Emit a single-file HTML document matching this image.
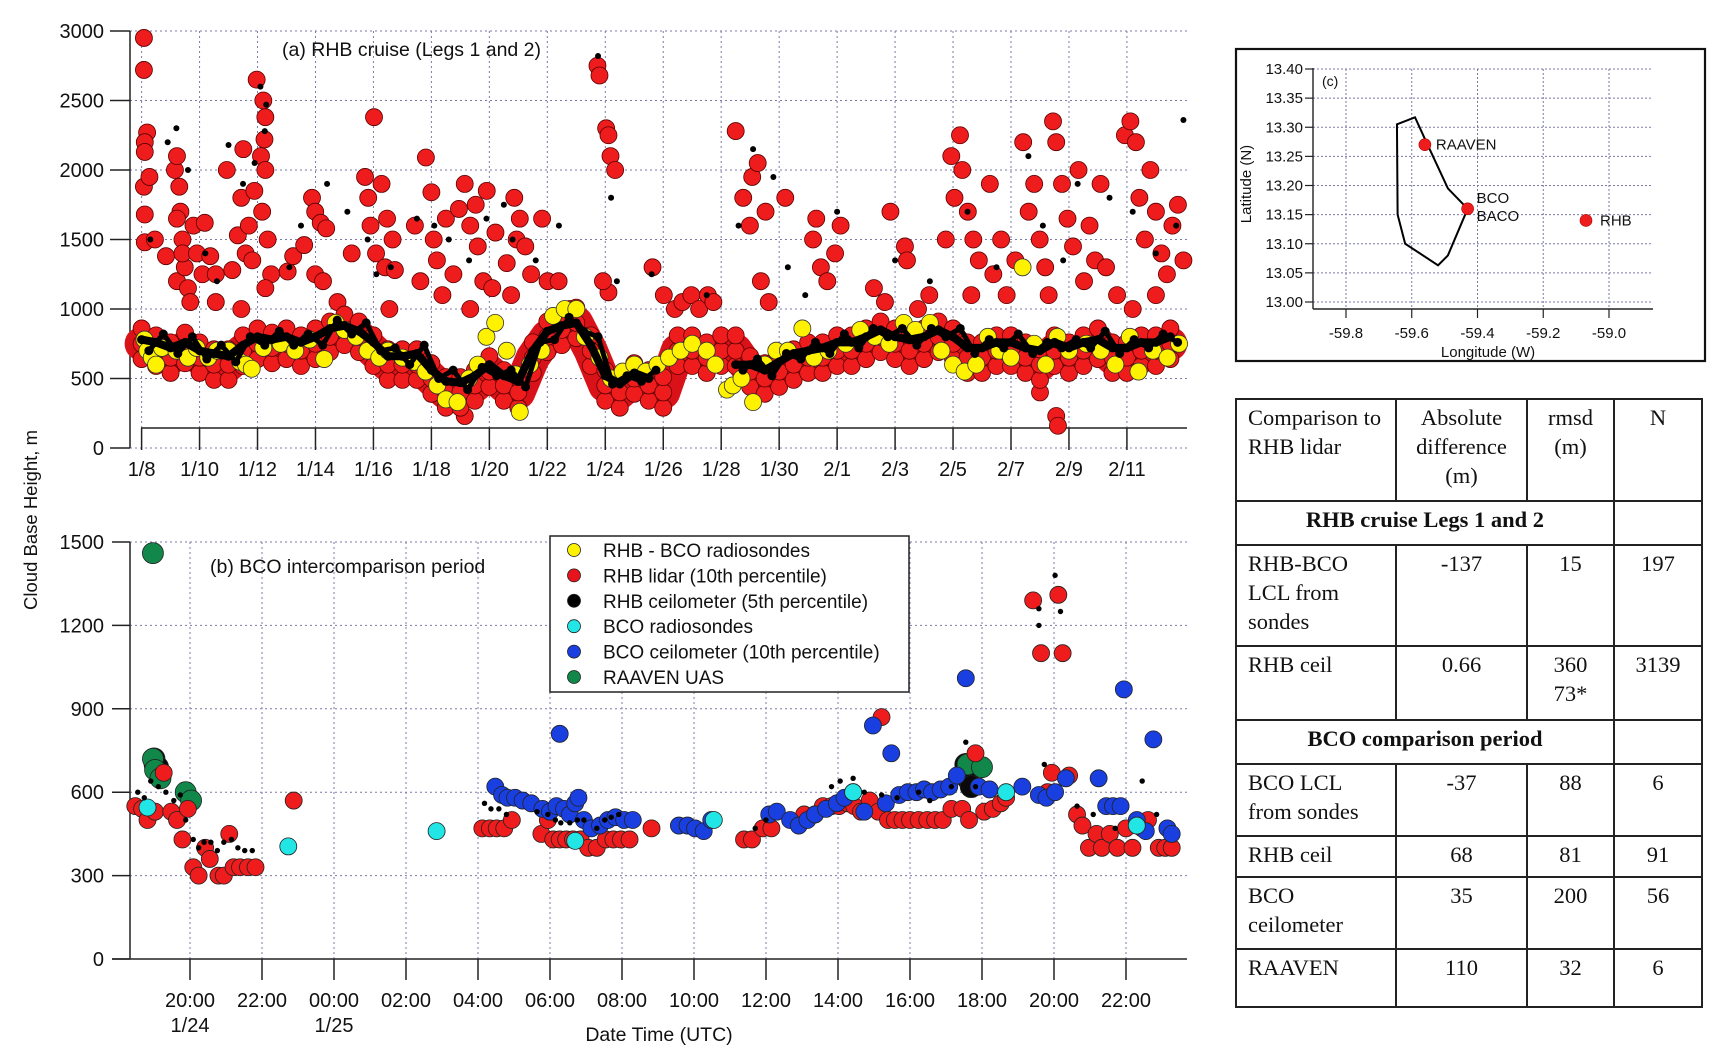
<!DOCTYPE html>
<html><head><meta charset="utf-8">
<style>
body{margin:0;background:#fff;width:1725px;height:1061px;overflow:hidden;position:relative;font-family:"Liberation Sans",sans-serif}
svg{position:absolute;left:0;top:0}
#tbl{position:absolute;left:1235px;top:398px;border-collapse:collapse;font-family:"Liberation Serif",serif;font-size:22.5px;line-height:29px;color:#111}
#tbl td{border:2px solid #222;vertical-align:top;padding:3px 8px 0 11px}
#tbl td.c{text-align:center;padding-left:4px;padding-right:4px}
</style></head><body>
<svg id="svg" width="1725" height="1061"></svg>
<table id="tbl">
<colgroup><col style="width:160px"><col style="width:131px"><col style="width:87px"><col style="width:88px"></colgroup>
<tr style="height:102px"><td>Comparison to RHB lidar</td><td class="c">Absolute difference (m)</td><td class="c">rmsd (m)</td><td class="c">N</td></tr>
<tr style="height:44px"><td colspan="3" class="c"><b>RHB cruise Legs 1 and 2</b></td><td></td></tr>
<tr style="height:101px"><td>RHB-BCO LCL from sondes</td><td class="c">-137</td><td class="c">15</td><td class="c">197</td></tr>
<tr style="height:74px"><td>RHB ceil</td><td class="c">0.66</td><td class="c">360<br>73*</td><td class="c">3139</td></tr>
<tr style="height:44px"><td colspan="3" class="c"><b>BCO comparison period</b></td><td></td></tr>
<tr style="height:72px"><td>BCO LCL from sondes</td><td class="c">-37</td><td class="c">88</td><td class="c">6</td></tr>
<tr style="height:41px"><td>RHB ceil</td><td class="c">68</td><td class="c">81</td><td class="c">91</td></tr>
<tr style="height:72px"><td>BCO ceilometer</td><td class="c">35</td><td class="c">200</td><td class="c">56</td></tr>
<tr style="height:58px"><td>RAAVEN</td><td class="c">110</td><td class="c">32</td><td class="c">6</td></tr>
</table>
<script>
// ---------- Panel (a) data: day offset from 1/8 ----------
const dayTicks=["1/8","1/10","1/12","1/14","1/16","1/18","1/20","1/22","1/24","1/26","1/28","1/30","2/1","2/3","2/5","2/7","2/9","2/11"];
const aYTicks=[0,500,1000,1500,2000,2500,3000];
const redBand=[750,700,650,720,650,600,600,700,750,720,750,700,750,800,850,800,700,600,600,600,500,400,400,450,550,450,400,650,800,850,900,700,450,400,500,450,400,700,700,650,700,700,550,500,550,600,650,650,700,700,750,800,750,700,750,800,750,650,650,700,700,650,600,700,650,700,750,650,650,700,700,750];
const blackBand=[780,760,720,760,700,680,660,740,800,780,800,760,800,860,880,840,760,660,660,680,560,480,470,520,600,520,480,700,840,880,900,740,520,460,540,500,null,null,null,null,null,600,600,560,620,680,700,720,760,760,800,850,800,780,800,850,800,720,720,760,760,720,700,760,720,760,780,720,720,760,760,800];
const blackBand2=[700,820,680,800,640,740,620,800,740,840,740,820,740,920,820,900,700,720,600,740,500,560,420,580,520,560,440,760,780,940,840,800,460,520,480,560,null,null,null,null,null,560,640,520,680,640,760,680,820,720,860,800,860,740,860,800,860,680,780,720,820,680,760,720,780,720,840,680,780,720,820,760];
const redHiDay=[0.08,0.08,0.19,0.11,0.11,0.08,0.11,0.11,0.27,0.46,0.84,1.15,1.22,1.30,1.34,1.41,1.22,1.49,1.60,1.68,1.41,1.79,1.22,1.91,2.10,2.18,2.37,2.56,2.56,2.94,3.13,3.32,3.44,3.51,3.70,3.59,3.82,3.89,3.97,4.12,4.20,4.27,4.24,4.27,4.16,4.35,4.47,4.27,3.44,5.04,5.23,5.61,5.88,5.99,6.18,6.37,5.99,6.26,6.76,7.25,7.71,7.82,7.90,8.02,8.09,8.28,8.47,8.40,8.66,8.74,8.55,9.43,9.62,9.81,10.0,10.08,10.19,10.38,10.50,10.76,10.95,11.15,11.34,11.53,11.60,11.79,11.91,12.10,12.21,11.34,12.60,12.75,12.86,12.94,13.05,13.24,13.44,13.82,14.01,14.39,14.77,15.73,15.80,16.03,16.11,16.18,16.34,16.11,15.92,17.63,18.02,18.40,18.66,18.97,19.24,19.54,19.73,20.50,20.76,20.99,21.07,21.26,21.37,21.53,21.64,22.21,23.17,23.28,23.44,23.66,23.93,24.12,25.27,25.65,25.84,26.34,26.41,26.79,27.18,27.75,27.94,28.05,28.24,28.32,28.51,28.70,28.89,28.63,29.27,29.39,29.66,29.85,30.15,30.42,30.61,30.80,30.99,31.18,31.30,31.45,31.56,31.76,31.95,32.14,32.33,32.52,32.71,32.90,33.09,33.28,33.66,33.93,34.12,34.31,34.43,34.62,34.81,35.0,35.19,35.38,35.57,35.76,35.95,34.20,35.0,31.0,31.56,31.62,11.15];
const redHiVal=[2950,2720,2270,2200,2130,1880,1680,1480,1950,1500,1380,2000,2100,1880,1700,1500,1200,1300,1150,1050,1400,1600,1650,1400,1250,1620,1380,1050,1250,2000,1280,1530,1800,2150,1600,1400,1350,1850,2650,2100,2500,2380,2220,2000,1700,1500,1250,1150,1000,1270,1380,1460,1800,1700,1620,1580,1250,1200,1050,1400,1950,1800,1600,2380,1400,1900,1650,1300,1500,1280,1000,1600,1200,2090,1840,1500,1350,1100,1650,1250,1720,1900,1600,1750,1450,1200,1850,1150,1550,1000,1330,1100,1800,1500,1650,1450,1250,1650,1200,1200,1000,2750,2680,2300,2250,2100,2000,1120,1200,1300,1100,1000,1050,1100,1000,1100,1050,2280,1800,1600,1950,2050,1200,1700,1050,1800,1500,1650,1300,1200,1400,1600,1150,1050,1700,1450,1350,1000,1100,1500,2100,1800,2250,2000,1700,1500,1350,1100,1900,1250,1500,1100,1350,2200,1700,1900,1500,1300,1100,2350,2200,1900,1650,1450,2000,1200,1600,1350,1900,1300,1100,2250,2350,2200,1800,1500,2000,1700,1400,1250,1600,1750,1350,1000,1100,400,230,160,230];
const blackHiDay=[0.3,0.9,1.2,1.6,2.2,2.6,3.0,3.5,3.9,4.1,4.3,4.25,5.1,5.5,6.4,7.1,7.8,8.1,8.6,9.5,10.1,10.6,11.3,11.9,12.5,12.8,13.6,14.4,15.75,16.2,16.4,17.6,19.5,20.6,21.1,21.8,22.3,22.9,24.0,26.0,27.2,28.5,29.5,30.6,31.1,31.8,32.3,33.4,34.2,35.0,35.7,35.95];
const blackHiVal=[1500,2200,2300,2000,1400,1200,2180,1900,2050,2600,2470,2280,1300,1600,1900,1700,1500,1250,1300,1650,1600,1500,1350,1650,1750,1500,1350,1600,2820,1800,1200,1250,1100,1600,2150,1950,1300,1100,1700,1350,1200,1700,1300,2100,1600,1350,1900,1800,1700,1400,1600,2360];
const yelDay=[0.1,0.2,0.35,0.5,0.7,1.2,1.6,1.9,2.3,2.6,3.0,3.4,3.6,3.8,4.2,4.8,5.3,5.8,6.3,6.7,7.0,7.4,7.8,8.2,8.5,9.0,9.4,9.8,10.2,10.5,10.9,11.3,11.6,11.9,12.2,12.6,12.9,13.05,13.4,13.8,14.2,14.6,15.0,15.3,15.8,16.2,16.6,17.0,17.4,17.8,18.2,18.6,19.0,19.5,19.8,20.2,20.4,20.7,21.1,21.5,21.9,22.3,22.8,23.2,23.7,24.3,24.8,25.3,25.8,26.3,26.7,27.2,27.6,28.0,28.4,28.8,29.2,29.6,30.0,30.4,30.8,31.2,31.6,32.0,32.6,33.1,33.6,34.1,34.4,34.9,35.4,35.8];
const yelVal=[780,700,650,600,720,700,650,720,650,700,700,620,600,570,720,750,700,780,640,900,850,800,700,650,700,650,620,550,450,350,330,500,600,800,900,700,530,260,600,700,950,1000,1000,800,650,500,550,600,550,600,650,700,750,700,600,420,450,500,330,600,700,700,860,650,700,750,850,800,750,900,850,900,700,600,550,600,800,700,650,1300,750,600,800,700,750,700,600,800,550,700,650,750];

// ---------- Panel (b) data: hours after 1/24 20:00 ----------
const timeTicks=["20:00","22:00","00:00","02:00","04:00","06:00","08:00","10:00","12:00","14:00","16:00","18:00","20:00","22:00"];
const bYTicks=[0,300,600,900,1200,1500];
const lidarH=[-1.52,-1.33,-1.18,-0.97,-0.73,-0.52,-0.36,-0.21,-0.06,0.09,0.24,0.42,0.55,0.79,0.94,1.09,1.21,1.39,1.61,1.82,2.88,8.12,8.33,8.52,8.73,8.94,9.76,9.94,10.09,10.27,10.45,10.64,10.85,11.06,11.3,11.55,11.76,11.97,12.21,12.82,15.39,15.61,15.91,16.15,17.06,17.36,17.58,17.82,18.03,18.27,18.45,18.64,18.88,19.12,19.21,19.39,19.58,19.79,20.0,20.24,20.48,20.7,20.91,21.15,21.45,21.64,21.82,22.06,22.3,22.52,22.67,23.42,23.64,23.82,23.94,24.12,24.24,24.42,24.64,24.79,24.97,25.18,25.33,25.55,25.76,26.0,26.18,26.45,26.61,26.91,27.09,27.27];
const lidarV=[550,540,500,530,670,530,500,430,540,330,300,400,360,300,300,450,330,330,330,330,570,470,470,470,470,500,450,500,430,430,430,430,430,400,400,430,430,430,430,470,430,430,470,470,520,520,550,550,550,560,550,530,570,530,870,500,500,500,500,500,500,500,500,540,540,500,740,530,540,560,580,1290,1100,600,670,1310,1100,660,520,480,400,450,400,450,400,470,400,470,500,400,400,400];
const bcoH=[8.48,8.67,8.82,9.03,9.24,9.48,9.79,10.0,10.18,10.27,10.39,10.55,10.7,10.79,10.94,11.15,11.39,11.61,11.82,12.06,12.3,13.58,13.82,14.03,14.27,14.48,16.09,16.3,16.67,16.91,17.15,17.36,17.67,17.97,18.18,18.42,18.73,18.97,19.33,19.48,19.7,19.94,20.18,20.39,20.61,20.85,21.09,21.3,21.55,21.91,22.21,23.12,23.58,23.79,24.03,24.33,25.24,25.45,25.64,25.85,25.94,26.3,26.55,26.76,27.15,27.27];
const bcoV=[620,590,580,580,570,560,540,530,550,810,540,520,560,580,500,470,480,500,510,500,500,480,480,470,460,500,520,530,500,480,500,520,540,560,580,600,530,840,560,740,590,600,600,610,600,610,620,660,1010,620,610,620,590,580,600,650,650,550,550,550,970,500,460,790,470,450];
const sondeH=[-1.18,2.73,6.85,10.7,14.55,18.42,22.67,26.3];
const sondeV=[545,405,460,425,500,600,600,480];
const uasH=[-1.03,-1.03,-0.97,-0.82,-0.12,0.03,21.6,22.0];
const uasV=[1460,720,680,650,600,570,700,690];
const ceilBigH=[-1.0,-0.97,-0.9,21.55,21.6,21.7];
const ceilBigV=[720,700,690,700,650,620];
const ceilH=[-1.45,-1.27,-1.09,-0.88,-0.67,-0.45,-0.27,-0.12,0.09,0.24,0.39,0.58,0.76,0.94,1.15,1.33,1.52,1.73,8.18,8.36,8.58,8.79,9.64,9.94,10.15,10.3,10.55,10.76,10.94,11.3,11.52,11.7,11.91,15.7,16.0,17.82,18.06,18.42,18.73,19.21,19.64,20.24,20.55,21.15,21.55,21.82,23.58,23.58,23.73,24.03,24.18,24.64,25.09,25.7,26.45,26.85];
const ceilV=[600,580,640,620,600,570,590,500,430,400,420,420,390,420,430,400,390,390,560,540,540,520,530,520,500,490,490,500,500,470,500,510,520,470,500,620,640,650,600,590,580,600,570,620,780,620,1200,1260,700,1380,1250,550,520,470,640,520];
const legendLabels=["RHB - BCO radiosondes","RHB lidar (10th percentile)","RHB ceilometer (5th percentile)","BCO radiosondes","BCO ceilometer (10th percentile)","RAAVEN UAS"];
const legendColors=["#fff200","#e8141b","#000000","#22e5e5","#1a3fe0","#12874a"];

// ---------- Panel (c) data ----------
const lonTicks=[-59.8,-59.6,-59.4,-59.2,-59.0];
const latTicks=[13.00,13.05,13.10,13.15,13.20,13.25,13.30,13.35,13.40];
const islandLon=[-59.59,-59.645,-59.643,-59.62,-59.52,-59.49,-59.43,-59.49,-59.56];
const islandLat=[13.317,13.305,13.15,13.10,13.063,13.08,13.16,13.195,13.28];
const siteNames=["RAAVEN","BCO","RHB"];
const siteLon=[-59.56,-59.43,-59.07];
const siteLat=[13.27,13.16,13.14];

const NS="http://www.w3.org/2000/svg";
const svg=document.getElementById('svg');
function mk(tag,attrs,parent){const e=document.createElementNS(NS,tag);for(const k in attrs)e.setAttribute(k,attrs[k]);(parent||svg).appendChild(e);return e;}
function txt(s,x,y,size,anchor,parent,extra){const t=mk('text',Object.assign({x:x,y:y,'font-size':size,'text-anchor':anchor||'start','font-family':'Liberation Sans, sans-serif',fill:'#111'},extra||{}),parent);t.textContent=s;return t;}
const GRID='#7a7aa8';

// ===== Panel A =====
const xA=d=>141.6+d*28.98, yA=v=>448-v*0.139;
const gA=mk('g',{});


aYTicks.forEach(v=>{
  const l=mk('line',{x1:130,x2:1187,y1:yA(v),y2:yA(v),stroke:GRID,'stroke-width':1,'stroke-dasharray':'2,3'},gA);
  
  
  mk('line',{x1:110,x2:130,y1:yA(v),y2:yA(v),stroke:'#222','stroke-width':1.5},gA);
  const t=txt(String(v),104,yA(v)+7,20,'end',gA);
  
  
});
dayTicks.forEach((s,i)=>{
  const x=xA(i*2);
  mk('line',{x1:x,x2:x,y1:31,y2:448,stroke:GRID,'stroke-width':1,'stroke-dasharray':'2,3'},gA);
  mk('line',{x1:x,x2:x,y1:428,y2:450,stroke:'#222','stroke-width':1.5},gA);
  const t=txt(s,x,476,20,'middle',gA);
  
  
});
mk('line',{x1:130,x2:130,y1:31,y2:448,stroke:'#222','stroke-width':1.5},gA);
mk('line',{x1:141,x2:1187,y1:428,y2:428,stroke:'#222','stroke-width':1.5},gA);
let pr='';redBand.forEach((v,i)=>{pr+=(i?'L':'M')+xA(i*0.5)+','+yA(v);});
const rbl=mk('path',{d:pr,stroke:'#d81218',fill:'none','stroke-width':34,'stroke-linejoin':'round','stroke-linecap':'round'},gA);


redHiDay.forEach((d,i)=>{
  const c=mk('circle',{cx:xA(d),cy:yA(redHiVal[i]),r:8.5,fill:'#ee1c1c',stroke:'#5a0000','stroke-width':0.8},gA);
  
  
});
redBand.forEach((v,i)=>{
  [-110,0,110].forEach(o=>{
    const c=mk('circle',{cx:xA(i*0.5),cy:yA(v+o),r:8.5,fill:'#ee1c1c',stroke:'#5a0000','stroke-width':0.8},gA);
    
    
  });
});
yelDay.forEach((d,i)=>{
  const c=mk('circle',{cx:xA(d),cy:yA(yelVal[i]),r:8.5,fill:'#fff200',stroke:'#333','stroke-width':0.8},gA);
  
  
});
[blackBand,blackBand2].forEach((arr,k)=>{
  let pb='',pen=false;arr.forEach((v,i)=>{if(v==null){pen=false;return;}pb+=(pen?'L':'M')+xA(i*0.5+k*0.25)+','+yA(v);pen=true;});
  const bbl=mk('path',{d:pb,stroke:'#000',fill:'none','stroke-width':k?5:8,'stroke-linejoin':'round','stroke-linecap':'round'},gA);
  
  
  arr.forEach((v,i)=>{if(v==null)return;
    const c=mk('circle',{cx:xA(i*0.5+k*0.25),cy:yA(v),r:4.5,fill:'#000'},gA);
    
    
  });
});
blackHiDay.forEach((d,i)=>{
  const c=mk('circle',{cx:xA(d),cy:yA(blackHiVal[i]),r:3,fill:'#000'},gA);
  
  
});
const ta=txt('(a) RHB cruise (Legs 1 and 2)',282,56,19.5,'start',gA);



// ===== Panel B =====
const xB=h=>190+h*36.0, yB=v=>959-v*0.278;
const gB=mk('g',{});


bYTicks.forEach(v=>{
  if(v>0) mk('line',{x1:130,x2:1187,y1:yB(v),y2:yB(v),stroke:GRID,'stroke-width':1,'stroke-dasharray':'2,3'},gB);
  mk('line',{x1:112,x2:130,y1:yB(v),y2:yB(v),stroke:'#222','stroke-width':1.5},gB);
  const t=txt(String(v),104,yB(v)+7,20,'end',gB);
  
  
});
timeTicks.forEach((s,i)=>{
  const x=xB(i*2);
  mk('line',{x1:x,x2:x,y1:542,y2:959,stroke:GRID,'stroke-width':1,'stroke-dasharray':'2,3'},gB);
  mk('line',{x1:x,x2:x,y1:959,y2:980,stroke:'#222','stroke-width':1.5},gB);
  const t=txt(s,x,1007,20,'middle',gB);
  
  
});
txt('1/24',xB(0),1032,20,'middle',gB);
txt('1/25',xB(4),1032,20,'middle',gB);
mk('line',{x1:130,x2:130,y1:542,y2:959,stroke:'#222','stroke-width':1.5},gB);
mk('line',{x1:112,x2:1187,y1:959,y2:959,stroke:'#222','stroke-width':1.5},gB);
function dots(H,V,r,fill,name,stroke){H.forEach((h,i)=>{const c=mk('circle',{cx:xB(h),cy:yB(V[i]),r:r,fill:fill,stroke:stroke||'#222','stroke-width':stroke==='none'?0:0.8},gB);
  
  });}
dots(ceilBigH,ceilBigV,11,'#0a0a0a','rhb-ceilometer-cluster');
dots(uasH,uasV,10.5,'#12874a','raaven-uas-point');
dots(lidarH,lidarV,8.5,'#ee1c1c','rhb-lidar-point');
dots(bcoH,bcoV,8.5,'#1a3fe0','bco-ceilometer-point');
dots(sondeH,sondeV,8.5,'#22e5e5','bco-radiosonde-point');
dots(ceilH,ceilV,2.7,'#000','rhb-ceilometer-point','none');
const tb=txt('(b) BCO intercomparison period',210,573,19.5,'start',gB);


const xt=txt('Date Time (UTC)',659,1041,19.5,'middle',gB);


const lg=mk('g',{});


mk('rect',{x:550,y:536,width:359,height:156,fill:'#fff',stroke:'#222','stroke-width':1.5},lg);
legendLabels.forEach((s,i)=>{
  const y=550+i*25.4;
  const e=mk('g',{},lg);
  
  
  mk('circle',{cx:574,cy:y,r:6.5,fill:legendColors[i],stroke:'#222','stroke-width':0.8},e);
  txt(s,603,y+7,19,'start',e);
});
const yt=txt('Cloud Base Height, m',0,0,18.5,'middle',svg,{transform:'translate(37,520) rotate(-90)'});



// ===== Panel C (map) =====
const xm=l=>1346+(l+59.8)/0.2*65.75, ym=l=>302-(l-13)/0.4*233;
const gC=mk('g',{});


mk('rect',{x:1236,y:49,width:469,height:312,fill:'#fff',stroke:'#111','stroke-width':2.2},gC);
latTicks.forEach(v=>{
  mk('line',{x1:1313,x2:1653,y1:ym(v),y2:ym(v),stroke:GRID,'stroke-width':1,'stroke-dasharray':'2,2'},gC);
  mk('line',{x1:1305,x2:1313,y1:ym(v),y2:ym(v),stroke:'#222','stroke-width':1.2},gC);
  const t=txt(v.toFixed(2),1303,ym(v)+5,15,'end',gC);
  
  
});
lonTicks.forEach(v=>{
  mk('line',{x1:xm(v),x2:xm(v),y1:69,y2:309,stroke:GRID,'stroke-width':1,'stroke-dasharray':'2,2'},gC);
  mk('line',{x1:xm(v),x2:xm(v),y1:309,y2:318,stroke:'#222','stroke-width':1.2},gC);
  const t=txt(v.toFixed(1),xm(v),338,15,'middle',gC);
  
  
});
mk('line',{x1:1313,x2:1653,y1:309,y2:309,stroke:'#222','stroke-width':1.4},gC);
mk('line',{x1:1313,x2:1313,y1:68,y2:309,stroke:'#222','stroke-width':1.4},gC);
const isl=mk('polygon',{points:islandLon.map((l,i)=>xm(l)+','+ym(islandLat[i])).join(' '),fill:'none',stroke:'#000','stroke-width':2},gC);


siteNames.forEach((s,i)=>{
  const c=mk('circle',{cx:xm(siteLon[i]),cy:ym(siteLat[i]),r:6,fill:'#ee1c1c',stroke:'#a00','stroke-width':0.6},gC);
  
  
});
txt('RAAVEN',xm(siteLon[0])+11,ym(siteLat[0])+5,15,'start',gC);
txt('BCO',xm(siteLon[1])+9,ym(siteLat[1])-6,15,'start',gC);
txt('BACO',xm(siteLon[1])+9,ym(siteLat[1])+12,15,'start',gC);
txt('RHB',xm(siteLon[2])+14,ym(siteLat[2])+5,15,'start',gC);
txt('(c)',1322,86,14,'start',gC);
txt('Longitude (W)',1488,357,15,'middle',gC);
txt('Latitude (N)',0,0,15,'middle',gC,{transform:'translate(1251,184) rotate(-90)'});
</script>
</body></html>
